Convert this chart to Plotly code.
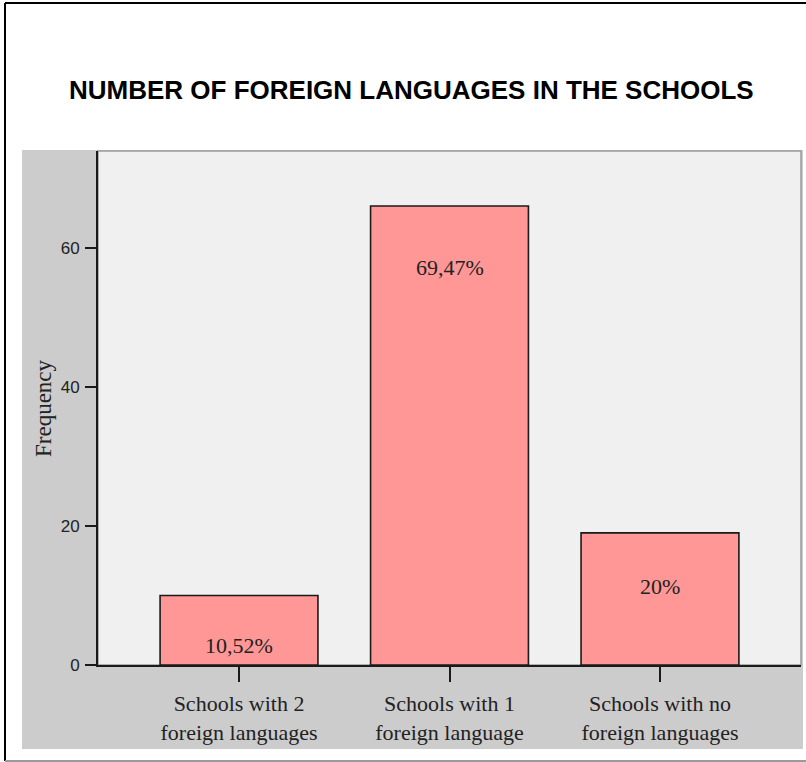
import plotly.graph_objects as go

# Data
categories = ["Schools with 2<br>foreign languages",
              "Schools with 1<br>foreign language",
              "Schools with no<br>foreign languages"]
frequency = [10, 66, 19]
percent_labels = ["10,52%", "69,47%", "20%"]
y_ticks = [0, 20, 40, 60]

# Figure geometry (pixels)
W, H = 806, 762
PL, PR, PT, PB = 98, 801, 151, 665   # plot area edges
pw, ph = PR - PL, PB - PT


def px_x(x):
    return (x - PL) / pw


def px_y(y):
    return (PB - y) / ph


# vertical offset of each percentage label below its bar top
label_shift = [-50, -62, -54]

fig = go.Figure()
fig.add_trace(go.Bar(
    x=[0, 1, 2],
    y=frequency,
    width=0.75,
    marker=dict(color="#ff9797", line=dict(color="#1a1a1a", width=1.6)),
    hoverinfo="skip",
))

annotations = []
for i, (v, lab) in enumerate(zip(frequency, percent_labels)):
    annotations.append(dict(
        x=i, y=v, xref="x", yref="y", text=lab, showarrow=False,
        yshift=label_shift[i], yanchor="middle",
        font=dict(family="Liberation Serif", size=22, color="#222222"),
    ))

# title
annotations.append(dict(
    x=px_x(411), y=px_y(90), xref="paper", yref="paper",
    text="<b>NUMBER OF FOREIGN LANGUAGES IN THE SCHOOLS</b>", showarrow=False,
    xanchor="center", yanchor="middle",
    font=dict(family="Liberation Sans", size=26, color="#000000"),
))
# y-axis title
annotations.append(dict(
    x=px_x(43), y=px_y(408), xref="paper", yref="paper",
    text="Frequency", showarrow=False, textangle=-90,
    xanchor="center", yanchor="middle",
    font=dict(family="Liberation Serif", size=23, color="#222222"),
))

shapes = [
    # grey chart panel behind the axes
    dict(type="rect", xref="paper", yref="paper", layer="below",
         x0=px_x(22), x1=px_x(803), y0=px_y(749), y1=px_y(150),
         fillcolor="#cccccc", line=dict(width=0)),
    # plot area background with thin frame
    dict(type="rect", xref="paper", yref="paper", layer="below",
         x0=0, x1=1, y0=0, y1=1,
         fillcolor="#f0f0f0", line=dict(color="#9a9a9a", width=1.5)),
    # outer border: left and top in black, bottom in grey
    dict(type="line", xref="paper", yref="paper",
         x0=px_x(5), x1=px_x(5), y0=px_y(761), y1=px_y(3),
         line=dict(color="#000000", width=2)),
    dict(type="line", xref="paper", yref="paper",
         x0=px_x(5), x1=px_x(806), y0=px_y(3), y1=px_y(3),
         line=dict(color="#000000", width=2)),
    dict(type="line", xref="paper", yref="paper",
         x0=px_x(5), x1=px_x(806), y0=px_y(761), y1=px_y(761),
         line=dict(color="#9a9a9a", width=2)),
]

fig.update_layout(
    width=W, height=H,
    margin=dict(l=PL, r=W - PR, t=PT, b=H - PB, pad=0),
    paper_bgcolor="#ffffff",
    plot_bgcolor="rgba(0,0,0,0)",
    showlegend=False,
    annotations=annotations,
    shapes=shapes,
    xaxis=dict(
        range=[-0.67, 2.67], tickvals=[0, 1, 2], ticktext=categories,
        ticks="outside", ticklen=15, tickwidth=1.6, tickcolor="#1a1a1a",
        showline=True, linecolor="#1a1a1a", linewidth=2,
        showgrid=False, zeroline=False, fixedrange=True,
        ticklabelstandoff=3,
        tickfont=dict(family="Liberation Serif", size=22, color="#222222"),
    ),
    yaxis=dict(
        range=[0, 73.9], tickvals=y_ticks,
        ticks="outside", ticklen=11, tickwidth=1.6, tickcolor="#1a1a1a",
        showline=True, linecolor="#1a1a1a", linewidth=2,
        showgrid=False, zeroline=False, fixedrange=True,
        ticklabelstandoff=2,
        tickfont=dict(family="Liberation Sans", size=17, color="#222222"),
    ),
)

fig.write_html("out.html", config={"displayModeBar": False})
